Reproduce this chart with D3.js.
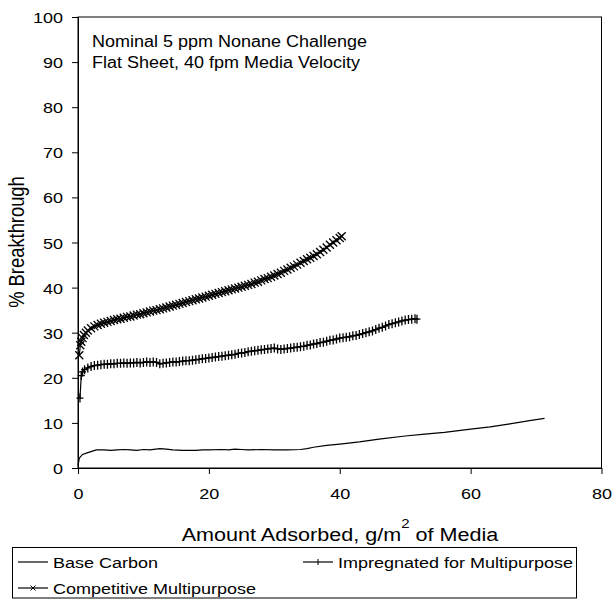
<!DOCTYPE html>
<html><head><meta charset="utf-8">
<script src="https://cdn.jsdelivr.net/npm/d3@7"></script>
<style>
html,body{margin:0;padding:0;background:#fff;}
svg{display:block;font-family:"Liberation Sans",Arial,sans-serif;}
</style></head>
<body><svg id="chart" width="613" height="599"></svg>
<script>
const xTicks = [0, 20, 40, 60, 80];
const yTicks = [0, 10, 20, 30, 40, 50, 60, 70, 80, 90, 100];
const seriesNames = ["Base Carbon", "Impregnated for Multipurpose", "Competitive Multipurpose"];
const annotation = ["Nominal 5 ppm Nonane Challenge", "Flat Sheet, 40 fpm Media Velocity"];

const baseCarbon = [[0,0.5],[0.2,2.2],[0.7,3.0],[1.5,3.4],[2.8,4.0],[4,4.0],[5,3.9],[6,4.0],[7,4.1],[8,4.0],[9,3.9],[10,4.1],[11,4.0],[12.5,4.3],[13.5,4.2],[14.5,4.0],[16,3.9],[18,3.9],[19,4.0],[20,4.0],[22,4.1],[23,4.0],[24,4.2],[25,4.1],[26,4.0],[28,4.1],[30,4.0],[32,4.0],[34,4.1],[35,4.3],[36,4.6],[38,5.0],[40,5.3],[43,5.8],[46,6.4],[50,7.1],[53,7.5],[56,7.9],[60,8.6],[63,9.1],[66,9.8],[69,10.5],[71.3,11.0]];

const impregnated = [[0.3,15.5],[0.5,20.5],[0.7,21.3],[1.0,21.8],[1.5,22.2],[2.0,22.5],[2.5,22.7],[3.0,22.8],[3.5,22.9],[4.0,23.0],[4.5,23.0],[5.0,23.1],[5.5,23.1],[6.0,23.2],[6.5,23.2],[7.0,23.3],[7.5,23.2],[8.0,23.3],[8.5,23.3],[9.0,23.4],[9.5,23.3],[10.0,23.4],[10.5,23.5],[11.0,23.4],[11.5,23.5],[12.0,23.4],[12.5,23.1],[13.0,23.2],[13.5,23.3],[14.0,23.4],[14.5,23.5],[15.0,23.5],[15.5,23.6],[16.0,23.7],[16.5,23.8],[17.0,23.8],[17.5,23.9],[18.0,24.0],[18.5,24.1],[19.0,24.2],[19.5,24.3],[20.0,24.4],[20.5,24.5],[21.0,24.6],[21.5,24.7],[22.0,24.8],[22.5,24.9],[23.0,25.0],[23.5,25.1],[24.0,25.2],[24.5,25.4],[25.0,25.5],[25.5,25.6],[26.0,25.8],[26.5,25.9],[27.0,26.0],[27.5,26.1],[28.0,26.2],[28.5,26.3],[29.0,26.4],[29.5,26.5],[30.0,26.6],[30.5,26.4],[31.0,26.3],[31.5,26.4],[32.0,26.5],[32.5,26.6],[33.0,26.7],[33.5,26.8],[34.0,26.9],[34.5,27.0],[35.0,27.2],[35.5,27.3],[36.0,27.5],[36.5,27.6],[37.0,27.8],[37.5,27.9],[38.0,28.1],[38.5,28.3],[39.0,28.4],[39.5,28.6],[40.0,28.8],[40.5,28.9],[41.0,29.0],[41.5,29.1],[42.0,29.3],[42.5,29.4],[43.0,29.6],[43.5,29.8],[44.0,30.0],[44.5,30.2],[45.0,30.4],[45.5,30.7],[46.0,31.0],[46.5,31.2],[47.0,31.5],[47.5,31.8],[48.0,32.0],[48.5,32.2],[49.0,32.4],[49.5,32.6],[50.0,32.8],[50.5,32.9],[51.0,33.0],[51.5,33.1],[51.8,33.0]];

const competitive = [[0.2,25.0],[0.35,27.2],[0.5,28.0],[0.7,28.8],[0.9,29.5],[1.2,30.0],[1.5,30.5],[2.0,31.0],[2.5,31.4],[3.0,31.7],[3.5,32.0],[4.0,32.2],[4.5,32.4],[5.0,32.6],[5.5,32.8],[6.0,33.0],[6.5,33.1],[7.0,33.3],[7.5,33.5],[8.0,33.6],[8.5,33.8],[9.0,34.0],[9.5,34.1],[10.0,34.3],[10.5,34.5],[11.0,34.7],[11.5,34.9],[12.0,35.0],[12.5,35.2],[13.0,35.4],[13.5,35.6],[14.0,35.8],[14.5,36.0],[15.0,36.2],[15.5,36.4],[16.0,36.6],[16.5,36.8],[17.0,37.0],[17.5,37.2],[18.0,37.4],[18.5,37.6],[19.0,37.8],[19.5,38.0],[20.0,38.2],[20.5,38.4],[21.0,38.6],[21.5,38.8],[22.0,39.0],[22.5,39.2],[23.0,39.4],[23.5,39.6],[24.0,39.8],[24.5,40.0],[25.0,40.2],[25.5,40.4],[26.0,40.6],[26.5,40.8],[27.0,41.1],[27.5,41.3],[28.0,41.6],[28.5,41.9],[29.0,42.1],[29.5,42.4],[30.0,42.7],[30.5,43.0],[31.0,43.3],[31.5,43.7],[32.0,44.0],[32.5,44.4],[33.0,44.7],[33.5,45.1],[34.0,45.5],[34.5,45.9],[35.0,46.3],[35.5,46.6],[36.0,47.0],[36.5,47.4],[37.0,47.9],[37.5,48.4],[38.0,48.9],[38.5,49.5],[39.0,50.0],[39.5,50.5],[40.0,51.0],[40.3,51.4]];

const FONT = '"Liberation Sans",Arial,sans-serif';
const VS = 0.85; // vertical squash of the original rendering
const svg = d3.select("#chart");
const L = 78, R = 601.5, T = 17, B = 468;
const x = d3.scaleLinear().domain([0, 80]).range([L, R]);
const y = d3.scaleLinear().domain([0, 100]).range([B, T]);

// plot area border
svg.append("rect").attr("x", L).attr("y", T).attr("width", R - L).attr("height", B - T)
  .attr("fill", "none").attr("stroke", "#000").attr("stroke-width", 1);

const yAxis = svg.append("g").attr("transform", `translate(${L},0)`)
  .call(d3.axisLeft(y).tickValues(yTicks).tickSize(6).tickPadding(9).tickSizeOuter(0));
const xAxis = svg.append("g").attr("transform", `translate(0,${B})`)
  .call(d3.axisBottom(x).tickValues(xTicks).tickSize(6).tickPadding(13).tickSizeOuter(0));
[yAxis, xAxis].forEach(g => {
  g.select(".domain").attr("stroke", "#000");
  g.selectAll("line").attr("stroke", "#000");
  g.selectAll("text").attr("font-size", 18).attr("fill", "#000").attr("font-family", FONT);
});
yAxis.selectAll("text").attr("dy", "0.36em").attr("transform", `scale(1,${VS})`);
xAxis.selectAll("text").attr("dy", 0).attr("y", 31 / VS).attr("transform", `scale(1,${VS})`);

// axis titles
svg.append("g").attr("transform", `translate(16,242) scale(1,${VS})`)
  .append("text").attr("transform", "rotate(-90)").attr("text-anchor", "middle")
  .attr("dy", "0.36em").attr("font-size", 21.6).text("% Breakthrough");
const xt = svg.append("g").attr("transform", `translate(340,541) scale(1,${VS})`)
  .append("text").attr("text-anchor", "middle").attr("font-size", 21.6);
xt.append("tspan").text("Amount Adsorbed, g/m");
xt.append("tspan").attr("font-size", 15).attr("dy", -15).text("2");
xt.append("tspan").attr("dy", 15).text(" of Media");

// annotation
annotation.forEach((t, i) => {
  svg.append("g").attr("transform", `translate(92,${47 + i * 21}) scale(1,0.88)`)
    .append("text").attr("font-size", 18).text(t);
});

// lines
const line = d3.line().x(d => x(d[0])).y(d => y(d[1]));
const plotG = svg.append("g");
[baseCarbon, impregnated, competitive].forEach(s => {
  plotG.append("path").datum(s).attr("d", line).attr("fill", "none").attr("stroke", "#000").attr("stroke-width", 1.2);
});
const plusPath = "M-3.5,0H3.5M0,-4.5V4.5";
const crossPath = "M-4,-4L4,4M4,-4L-4,4";
plotG.append("g").selectAll("path").data(impregnated).join("path")
  .attr("transform", d => `translate(${x(d[0])},${y(d[1])})`).attr("d", plusPath)
  .attr("stroke", "#000").attr("stroke-width", 1.3).attr("fill", "none");
plotG.append("g").selectAll("path").data(competitive).join("path")
  .attr("transform", d => `translate(${x(d[0])},${y(d[1])})`).attr("d", crossPath)
  .attr("stroke", "#000").attr("stroke-width", 1.3).attr("fill", "none");

// legend
const lg = svg.append("g");
lg.append("rect").attr("x", 12.5).attr("y", 547.5).attr("width", 564).attr("height", 50.5)
  .attr("fill", "#fff").attr("stroke", "#000").attr("stroke-width", 1);
const legItems = [
  {name: seriesNames[0], lx: 18, ly: 562, marker: null},
  {name: seriesNames[1], lx: 303, ly: 562, marker: "M0,-3V3"},
  {name: seriesNames[2], lx: 18, ly: 588, marker: "M-2.5,-2.5L2.5,2.5M2.5,-2.5L-2.5,2.5"}
];
legItems.forEach(it => {
  lg.append("line").attr("x1", it.lx).attr("x2", it.lx + 30).attr("y1", it.ly).attr("y2", it.ly)
    .attr("stroke", "#000").attr("stroke-width", 1.2);
  if (it.marker) lg.append("path").attr("d", it.marker).attr("transform", `translate(${it.lx + 15},${it.ly})`)
    .attr("stroke", "#000").attr("fill", "none");
  lg.append("g").attr("transform", `translate(${it.lx + 35},${it.ly + 5.5}) scale(1,${VS})`)
    .append("text").attr("font-size", 18).text(it.name);
});
</script></body></html>
